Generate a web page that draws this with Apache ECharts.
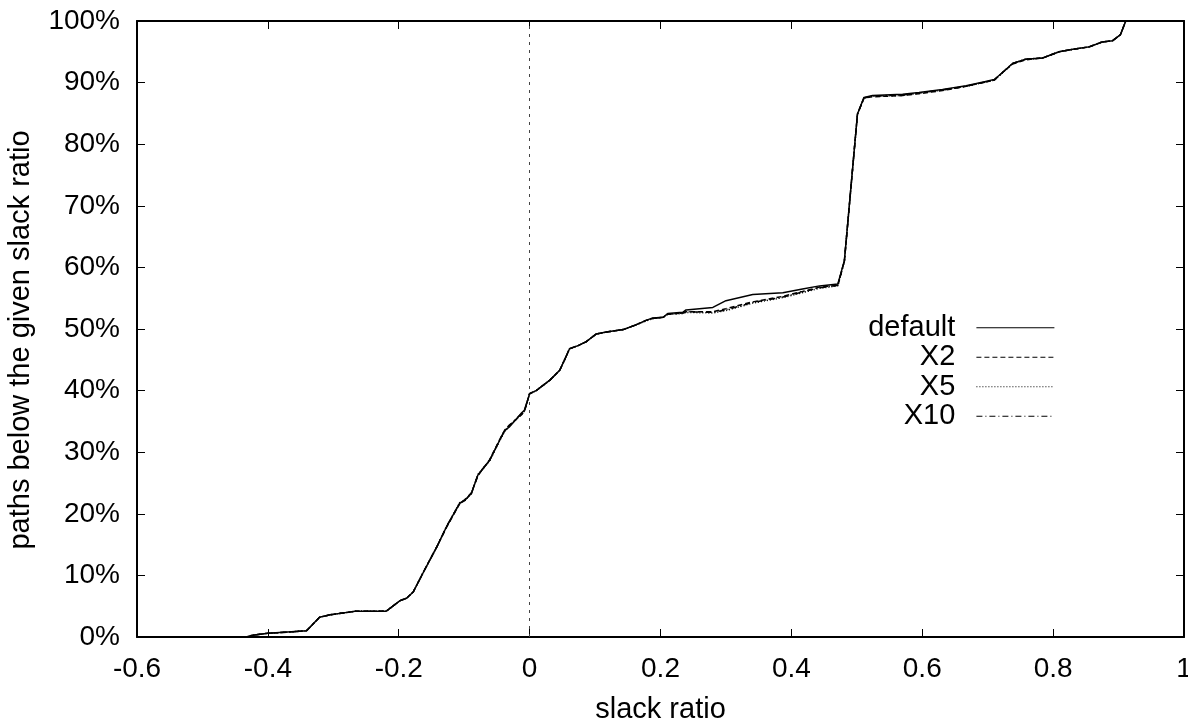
<!DOCTYPE html>
<html>
<head>
<meta charset="utf-8">
<script src="https://cdn.jsdelivr.net/npm/echarts@6/dist/echarts.min.js"></script>
<style>
  html, body { margin: 0; padding: 0; background: #fff; }
  #mainChart { width: 1188px; height: 724px; }
</style>
</head>
<body>
<div id="mainChart"></div>
<script>
// slack ratio values shared by all four curves
const slackRatio = [
  -0.44, -0.433, -0.423, -0.40, -0.37, -0.341, -0.321, -0.305, -0.265, -0.219,
  -0.198, -0.188, -0.178, -0.158, -0.142, -0.127, -0.107, -0.099, -0.089, -0.079,
  -0.061, -0.046, -0.038, -0.031, -0.013, -0.008, 0.0, 0.010, 0.031, 0.046,
  0.053, 0.061, 0.074, 0.086, 0.102, 0.117, 0.143, 0.163, 0.178, 0.188,
  0.204, 0.211, 0.234, 0.239, 0.280, 0.300, 0.341, 0.387, 0.417, 0.443,
  0.471, 0.481, 0.501, 0.511, 0.524, 0.570, 0.595, 0.631, 0.667, 0.697,
  0.710, 0.720, 0.738, 0.758, 0.784, 0.809, 0.830, 0.855, 0.875, 0.891,
  0.903, 0.911
];

// % of paths below the slack ratio
const defaultPct = [
  0, 0, 0.3, 0.6, 0.8, 1.0, 3.2, 3.6, 4.2, 4.2,
  5.9, 6.3, 7.3, 11.4, 14.6, 17.9, 21.7, 22.2, 23.3, 26.3,
  28.7, 31.9, 33.5, 34.1, 36.3, 36.8, 39.5, 40.0, 41.7, 43.3,
  44.9, 46.8, 47.3, 47.9, 49.2, 49.5, 49.9, 50.7, 51.4, 51.8,
  51.9, 52.5, 52.7, 53.1, 53.5, 54.6, 55.6, 55.9, 56.5, 57.0,
  57.3, 61.1, 84.9, 87.6, 87.9, 88.1, 88.4, 88.9, 89.5, 90.2,
  90.5, 91.4, 93.1, 93.8, 94.0, 95.0, 95.4, 95.8, 96.6, 96.8,
  97.8, 100
];
const x2Pct = [
  0, 0, 0.3, 0.6, 0.8, 1.0, 3.2, 3.6, 4.2, 4.2,
  5.9, 6.3, 7.3, 11.4, 14.6, 17.8, 21.6, 22.3, 23.4, 26.2,
  28.8, 32.0, 33.6, 34.4, 36.0, 36.6, 39.5, 40.0, 41.7, 43.3,
  44.9, 46.8, 47.3, 47.9, 49.2, 49.5, 49.9, 50.7, 51.4, 51.7,
  51.9, 52.4, 52.6, 52.8, 52.8, 53.3, 54.4, 55.3, 56.1, 56.8,
  57.1, 61.0, 84.9, 87.5, 87.7, 87.9, 88.2, 88.7, 89.4, 90.1,
  90.4, 91.4, 93.0, 93.7, 94.0, 95.0, 95.4, 95.8, 96.6, 96.8,
  97.8, 100
];
const x5Pct = [
  0, 0, 0.3, 0.6, 0.8, 1.0, 3.2, 3.6, 4.2, 4.2,
  5.9, 6.3, 7.3, 11.4, 14.6, 17.9, 21.8, 22.1, 23.3, 26.4,
  28.6, 31.8, 33.4, 34.2, 36.1, 36.7, 39.5, 40.0, 41.7, 43.3,
  44.9, 46.8, 47.3, 47.9, 49.2, 49.5, 49.9, 50.7, 51.3, 51.7,
  51.9, 52.4, 52.5, 52.7, 52.6, 53.0, 54.2, 55.1, 55.9, 56.6,
  57.0, 61.0, 84.9, 87.5, 87.8, 87.9, 88.3, 88.8, 89.4, 90.1,
  90.4, 91.3, 93.1, 93.8, 94.0, 95.0, 95.4, 95.8, 96.6, 96.8,
  97.8, 100
];
const x10Pct = [
  0, 0, 0.3, 0.6, 0.8, 1.0, 3.2, 3.6, 4.2, 4.2,
  5.9, 6.3, 7.3, 11.4, 14.6, 17.9, 21.7, 22.2, 23.3, 26.3,
  28.7, 31.9, 33.6, 34.3, 36.2, 36.7, 39.5, 40.0, 41.7, 43.3,
  44.9, 46.8, 47.3, 47.9, 49.2, 49.5, 49.9, 50.7, 51.4, 51.7,
  51.9, 52.4, 52.6, 52.8, 52.7, 53.1, 54.3, 55.2, 56.0, 56.7,
  57.1, 61.0, 84.9, 87.5, 87.8, 88.0, 88.3, 88.8, 89.4, 90.1,
  90.4, 91.4, 93.1, 93.8, 94.0, 95.0, 95.4, 95.8, 96.6, 96.8,
  97.8, 100
];

const seriesNames = ['default', 'X2', 'X5', 'X10'];
const seriesValues = [defaultPct, x2Pct, x5Pct, x10Pct];
const dashTypes = ['solid', [5, 3], [1, 2], [6, 3, 1, 3]];

const FONT = 'Liberation Sans, Arial, sans-serif';
const pair = (ys) => slackRatio.map((x, i) => [x, ys[i]]);

const chart = echarts.init(document.getElementById('mainChart'));

const series = seriesNames.map((name, k) => ({
  name: name,
  type: 'line',
  data: pair(seriesValues[k]),
  showSymbol: false,
  symbol: 'none',
  clip: true,
  lineStyle: { color: '#000', width: 1.5, type: dashTypes[k] },
  itemStyle: { color: '#000' },
  z: 3 + k
}));

// dotted zero line
series[0].markLine = {
  silent: true,
  symbol: 'none',
  label: { show: false },
  lineStyle: { color: '#444', width: 1, type: [3, 5] },
  data: [{ xAxis: 0 }]
};

const tickStyle = { show: true, inside: true, length: 8, lineStyle: { color: '#000', width: 1 } };
const axisLineStyle = { show: true, onZero: false, lineStyle: { color: '#000', width: 2 } };

chart.setOption({
  animation: false,
  backgroundColor: '#fff',
  grid: { left: 137, right: 4, top: 21, bottom: 87, outerBoundsMode: 'none' },
  legend: {
    data: seriesNames,
    orient: 'vertical',
    align: 'right',
    right: 133,
    top: 313,
    padding: 0,
    itemWidth: 78,
    itemHeight: 14,
    itemGap: 0,
    itemStyle: { opacity: 0 },
    lineStyle: { width: 1.2 },
    formatter: (name) => name + '  ',
    textStyle: { fontFamily: FONT, fontSize: 29, color: '#000', lineHeight: 29.5 }
  },
  xAxis: [{
    type: 'value',
    min: -0.6,
    max: 1,
    interval: 0.2,
    name: 'slack ratio',
    nameLocation: 'middle',
    nameGap: 58,
    nameTextStyle: { fontFamily: FONT, fontSize: 29, color: '#000' },
    axisLine: axisLineStyle,
    axisTick: tickStyle,
    splitLine: { show: false },
    axisLabel: {
      fontFamily: FONT, fontSize: 28, color: '#000', margin: 18,
      formatter: (v) => String(Math.round(v * 10) / 10)
    }
  }, {
    type: 'value',
    position: 'top',
    min: -0.6,
    max: 1,
    interval: 0.2,
    axisLine: axisLineStyle,
    axisTick: tickStyle,
    axisLabel: { show: false },
    splitLine: { show: false }
  }],
  yAxis: [{
    type: 'value',
    min: 0,
    max: 100,
    interval: 10,
    name: 'paths below the given slack ratio',
    nameLocation: 'middle',
    nameGap: 102,
    nameTextStyle: { fontFamily: FONT, fontSize: 29, color: '#000', padding: [0, 22, 0, 0] },
    axisLine: axisLineStyle,
    axisTick: tickStyle,
    splitLine: { show: false },
    axisLabel: { fontFamily: FONT, fontSize: 28, color: '#000', margin: 17, formatter: '{value}%' }
  }, {
    type: 'value',
    position: 'right',
    min: 0,
    max: 100,
    interval: 10,
    axisLine: axisLineStyle,
    axisTick: tickStyle,
    axisLabel: { show: false },
    splitLine: { show: false }
  }],
  series: series
});
</script>
</body>
</html>
